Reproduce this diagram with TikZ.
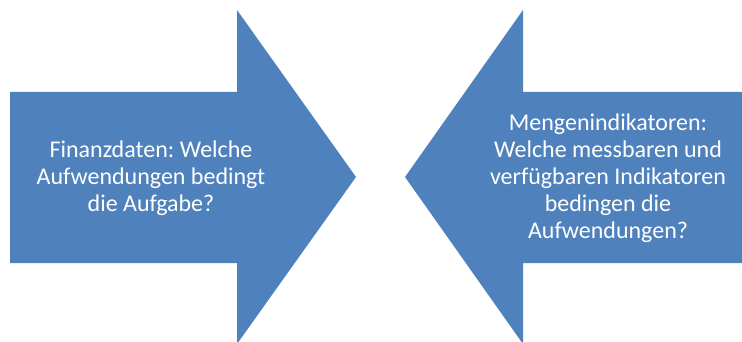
\documentclass[tikz,border=0pt]{standalone}
\usepackage{fontspec}
\setmainfont{Carlito}
\frenchspacing
\definecolor{officeblue}{HTML}{4F81BD}
\begin{document}
\begin{tikzpicture}[x=1pt,y=-1pt,
  arrowshape/.style={fill=officeblue,draw=none},
  arrowtext/.style={text=white,align=center,font=\fontsize{24}{27}\selectfont,inner sep=0pt}]
\useasboundingbox (0,0) rectangle (742,342);
\begin{scope}
\clip (0,0) rectangle (742,342);
\fill[arrowshape] (10,92) -- (237,92) -- (237,10) -- (356,177) -- (237,344) -- (237,263) -- (10,263) -- cycle;
\fill[arrowshape] (742,92) -- (523,92) -- (523,10) -- (405,177) -- (523,344) -- (523,263) -- (742,263) -- cycle;
\end{scope}
\node[arrowtext] (lt) at (151,178) {Finanzdaten: Welche\\Aufwendungen bedingt\\die Aufgabe?};
\node[arrowtext] (rt) at (608,178) {Mengenindikatoren:\\Welche messbaren und\\verfügbaren Indikatoren\\bedingen die\\Aufwendungen?};
\end{tikzpicture}
\end{document}
